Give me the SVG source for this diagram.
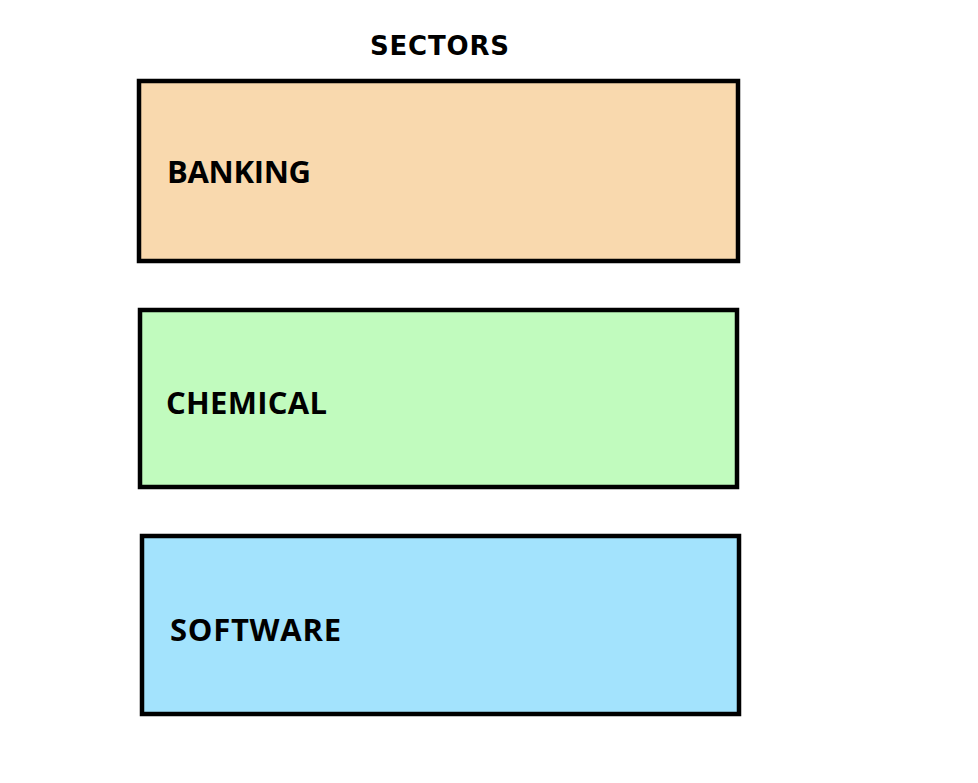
<svg xmlns="http://www.w3.org/2000/svg" width="978" height="783" viewBox="0 0 978 783">
<style>
.box{stroke:#000;stroke-width:4.5}
.lbl{font-family:"Open Sans","Liberation Sans",sans-serif;font-weight:bold;font-size:31px;fill:#000}
.title{font-family:"DejaVu Sans",sans-serif;font-weight:bold;font-size:26px;fill:#000}
</style>
<rect width="978" height="783" fill="#fff"/>
<text class="title" x="370" y="55" textLength="139" lengthAdjust="spacing">SECTORS</text>
<g id="banking">
<rect class="box" x="139" y="81" width="599" height="180" fill="#f9d9ae"/>
<text class="lbl" x="167" y="183" textLength="144" lengthAdjust="spacing">BANKING</text>
</g>
<g id="chemical">
<rect class="box" x="140" y="310" width="597" height="177" fill="#c1fbbe"/>
<text class="lbl" x="166" y="414" textLength="161" lengthAdjust="spacing">CHEMICAL</text>
</g>
<g id="software">
<rect class="box" x="142" y="536" width="597" height="178" fill="#a3e3fd"/>
<text class="lbl" x="170" y="641" textLength="171" lengthAdjust="spacing">SOFTWARE</text>
</g>
<g id="connectors"/>
</svg>
